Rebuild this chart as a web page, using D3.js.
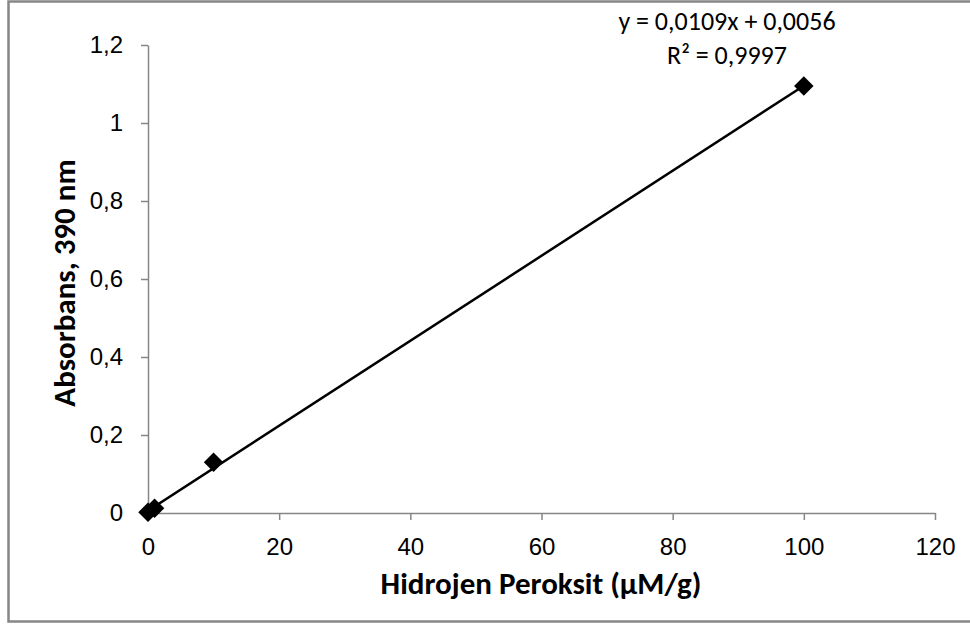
<!DOCTYPE html>
<html>
<head>
<meta charset="utf-8">
<script src="https://cdn.jsdelivr.net/npm/d3@7/dist/d3.min.js"></script>
<style>
  html, body { margin: 0; padding: 0; background: #fff; }
  svg { display: block; font-family: Carlito, Calibri, Lato, "Open Sans", sans-serif; }
</style>
</head>
<body>
<svg id="chart" width="970" height="625"></svg>
<script>
// Calibration data: hydrogen peroxide concentration vs absorbance at 390 nm
const concentrations = [0, 1, 10, 100];
const absorbances = [0.002, 0.012, 0.13, 1.095];

// Linear trendline fitted to the calibration points
const slope = 0.0109;
const intercept = 0.0056;
const rSquared = 0.9997;

const xTicks = [0, 20, 40, 60, 80, 100, 120];
const yTicks = [0, 0.2, 0.4, 0.6, 0.8, 1, 1.2];

const xTitle = "Hidrojen Peroksit (µM/g)";
const yTitle = "Absorbans, 390 nm";

const svg = d3.select("#chart");
const W = 970, H = 625;
const margin = { left: 148, right: 35, top: 45, bottom: 112 };

const comma = v => String(v).replace(".", ",");

const x = d3.scaleLinear().domain([0, 120]).range([margin.left, W - margin.right]);
const y = d3.scaleLinear().domain([0, 1.2]).range([H - margin.bottom, margin.top]);

// outer chart frame
svg.append("rect")
  .attr("x", 8.5).attr("y", 1.5)
  .attr("width", 980).attr("height", 620)
  .attr("fill", "#fff").attr("stroke", "#868686").attr("stroke-width", 2.5);

const xAxis = svg.append("g")
  .attr("transform", `translate(0,${y(0)})`)
  .call(d3.axisBottom(x).tickValues(xTicks).tickSize(7).tickSizeOuter(0).tickPadding(18).tickFormat(comma));

const yAxis = svg.append("g")
  .attr("transform", `translate(${x(0)},0)`)
  .call(d3.axisLeft(y).tickValues(yTicks).tickSize(7).tickSizeOuter(0).tickPadding(18).tickFormat(comma));

[xAxis, yAxis].forEach(g => {
  g.select(".domain").attr("stroke", "#868686").attr("stroke-width", 1.5);
  g.selectAll(".tick line").attr("stroke", "#868686").attr("stroke-width", 1.5);
  g.selectAll(".tick text").attr("fill", "#000").style("font-size", "24px");
});

// trendline across the measured range
svg.append("line")
  .attr("x1", x(0)).attr("y1", y(intercept))
  .attr("x2", x(100)).attr("y2", y(intercept + slope * 100))
  .attr("stroke", "#000").attr("stroke-width", 2.5);

// diamond markers
const diamond = d3.symbol().type(d3.symbolSquare).size(190);
svg.append("g").selectAll("path")
  .data(concentrations.map((c, i) => [c, absorbances[i]]))
  .join("path")
  .attr("d", diamond)
  .attr("transform", d => `translate(${x(d[0])},${y(d[1])}) rotate(45)`)
  .attr("fill", "#000");

// regression equation
const eq = svg.append("text")
  .attr("text-anchor", "middle")
  .attr("x", 727).style("font-size", "26px").attr("fill", "#000");
eq.append("tspan").attr("x", 727).attr("y", 30)
  .text(`y = ${comma(slope)}x + ${comma(intercept)}`);
eq.append("tspan").attr("x", 727).attr("y", 64)
  .text(`R² = ${comma(rSquared)}`);

// axis titles
svg.append("text")
  .attr("x", 541).attr("y", 594)
  .attr("text-anchor", "middle")
  .style("font-size", "31px").style("font-weight", "bold")
  .attr("fill", "#000")
  .text(xTitle);

svg.append("text")
  .attr("transform", `translate(75,${(y(0) + y(1.2)) / 2 + 4}) rotate(-90)`)
  .attr("text-anchor", "middle")
  .style("font-size", "31px").style("font-weight", "bold")
  .attr("fill", "#000")
  .text(yTitle);
</script>
</body>
</html>
